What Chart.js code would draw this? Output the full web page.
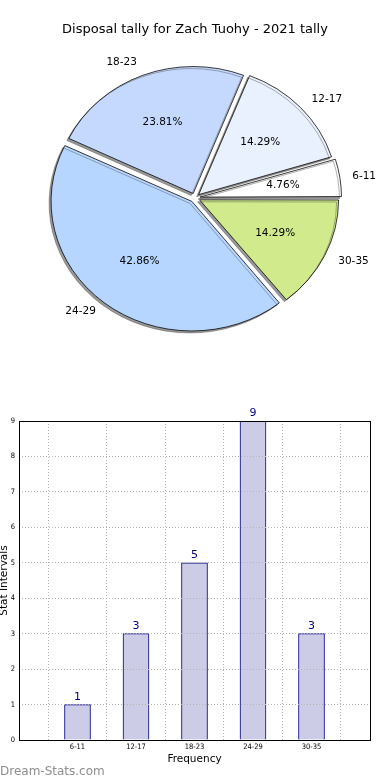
<!DOCTYPE html>
<html>
<head>
<meta charset="utf-8">
<script src="https://cdn.jsdelivr.net/npm/chart.js@4/dist/chart.umd.min.js"></script>
<style>
  body { margin: 0; background: #fff; width: 390px; height: 780px; overflow: hidden; position: relative; }
  #pieBox { position: absolute; left: 0; top: 0; width: 390px; height: 390px; }
  #barBox { position: absolute; left: -4px; top: 395px; width: 394px; height: 385px; }
  #mark { position: absolute; left: 0; top: 764px; font: 12px 'DejaVu Sans', sans-serif; color: #8e8e8e; }
</style>
</head>
<body>
<div id="pieBox"><canvas id="pieChart"></canvas></div>
<div id="barBox"><canvas id="barChart"></canvas></div>
<div id="mark">Dream-Stats.com</div>
<script>
// data
const categories = ['6-11', '12-17', '18-23', '24-29', '30-35'];
const counts = [1, 3, 5, 9, 3];
const percentLabels = ['4.76%', '14.29%', '23.81%', '42.86%', '14.29%'];
const sliceColors = ['#ffffff', '#eaf1fe', '#c5d9ff', '#b6d6ff', '#d0ea8c'];
const yTicks = [0, 1, 2, 3, 4, 5, 6, 7, 8, 9];

Chart.defaults.font.family = "'DejaVu Sans', sans-serif";
Chart.defaults.color = '#000';

const squash = 0.92;   // pie is drawn slightly flattened, like the original
const explode = 5;     // px, arc offset / 4
const pieRadius = 138;

// flatten the pie and add the grey drop shadow
const pieShape = {
  id: 'pieShape',
  beforeDatasetsDraw(chart) {
    const ctx = chart.ctx;
    const a = chart.getDatasetMeta(0).data[0];
    ctx.save();
    ctx.translate(a.x, a.y);
    ctx.scale(1, squash);
    ctx.translate(-a.x, -a.y);
    ctx.shadowColor = 'rgba(70, 70, 70, 0.55)';
    ctx.shadowOffsetX = -2;
    ctx.shadowOffsetY = 2;
    ctx.shadowBlur = 0;
  },
  afterDatasetsDraw(chart) {
    const ctx = chart.ctx;
    ctx.restore();

    // slice names and percentages
    const arcs = chart.getDatasetMeta(0).data;
    const names = chart.data.labels;
    const Rx = 140, Ry = 128;
    ctx.save();
    ctx.font = "10.5px 'DejaVu Sans'";
    ctx.fillStyle = '#000';
    ctx.textBaseline = 'middle';
    arcs.forEach((arc, i) => {
      const mid = (arc.startAngle + arc.endAngle) / 2;
      const c = Math.cos(mid), s = Math.sin(mid);
      const ox = arc.x + explode * c, oy = arc.y + explode * s * squash;
      ctx.textAlign = c > 0 ? 'left' : 'right';
      ctx.fillText(names[i], ox + 1.1 * Rx * c, oy + 1.1 * Ry * s);
      ctx.textAlign = 'center';
      ctx.fillText(chart.data.datasets[0].pctText[i], ox + 0.6 * Rx * c, oy + 0.6 * Ry * s);
    });
    ctx.restore();
  }
};

// matplotlib goes counter-clockwise, Chart.js clockwise: reverse the order
const pieLabels = categories.slice().reverse();

new Chart(document.getElementById('pieChart'), {
  type: 'pie',
  data: {
    labels: pieLabels,
    datasets: [{
      data: counts.slice().reverse(),
      pctText: percentLabels.slice().reverse(),
      backgroundColor: sliceColors.slice().reverse(),
      borderColor: '#000',
      borderWidth: 0.8,
      offset: explode * 4,
      radius: pieRadius
    }]
  },
  options: {
    responsive: true,
    maintainAspectRatio: false,
    animation: false,
    rotation: 90,
    layout: { padding: { bottom: 32 } },
    plugins: {
      legend: { display: false },
      tooltip: { enabled: false },
      title: {
        display: true,
        text: 'Disposal tally for Zach Tuohy - 2021 tally',
        font: { size: 13, weight: 'normal' },
        color: '#000',
        padding: { top: 22, bottom: 0 }
      }
    }
  },
  plugins: [pieShape]
});

// bar chart
const barLabels = [''].concat(categories, ['']);
const barData = [null].concat(counts, [null]);

const barExtras = {
  id: 'barExtras',
  afterDraw(chart) {
    const ctx = chart.ctx;
    const area = chart.chartArea;
    ctx.save();
    ctx.strokeStyle = '#000';
    ctx.lineWidth = 1;
    ctx.strokeRect(Math.round(area.left) + 0.5, Math.round(area.top) + 0.5,
      Math.round(area.right - area.left), Math.round(area.bottom - area.top));

    ctx.font = "11px 'DejaVu Sans'";
    ctx.fillStyle = '#000080';
    ctx.textAlign = 'center';
    ctx.textBaseline = 'alphabetic';
    chart.getDatasetMeta(0).data.forEach((bar, i) => {
      const v = chart.data.datasets[0].data[i];
      if (v === null) return;
      ctx.fillText(String(v), bar.x, bar.y - 5);
    });
    ctx.restore();
  }
};

new Chart(document.getElementById('barChart'), {
  type: 'bar',
  data: {
    labels: barLabels,
    datasets: [{
      data: barData,
      backgroundColor: '#cccce6',
      borderColor: '#000080',
      borderWidth: 1,
      barThickness: 26
    }]
  },
  options: {
    responsive: true,
    maintainAspectRatio: false,
    animation: false,
    layout: { padding: { top: 26, right: 20, left: 0, bottom: 0 } },
    scales: {
      x: {
        offset: false,
        afterFit: (s) => { s.height = 40; },
        grid: { color: '#b4b4b4', lineWidth: 1, drawTicks: false, z: 1 },
        border: { display: false, dash: [1, 2] },
        ticks: {
          padding: 3,
          maxRotation: 0,
          autoSkip: false,
          font: { family: "'DejaVu Sans Condensed', 'DejaVu Sans'", size: 7.5 }
        },
        title: {
          display: true,
          text: 'Frequency',
          font: { size: 10.5 },
          padding: { top: 0, bottom: 14 }
        }
      },
      y: {
        min: 0,
        max: 9,
        afterFit: (s) => { s.width = 23; },
        afterBuildTicks: (s) => { s.ticks = yTicks.map(v => ({ value: v })); },
        grid: { color: '#b4b4b4', lineWidth: 1, drawTicks: false, z: 1 },
        border: { display: false, dash: [1, 2] },
        ticks: {
          padding: 4,
          font: { family: "'DejaVu Sans Condensed', 'DejaVu Sans'", size: 7.5 }
        },
        title: {
          display: true,
          text: 'Stat Intervals',
          font: { size: 10.5 },
          padding: { top: 2, bottom: 0 }
        }
      }
    },
    plugins: {
      legend: { display: false },
      tooltip: { enabled: false }
    }
  },
  plugins: [barExtras]
});
</script>
</body>
</html>
